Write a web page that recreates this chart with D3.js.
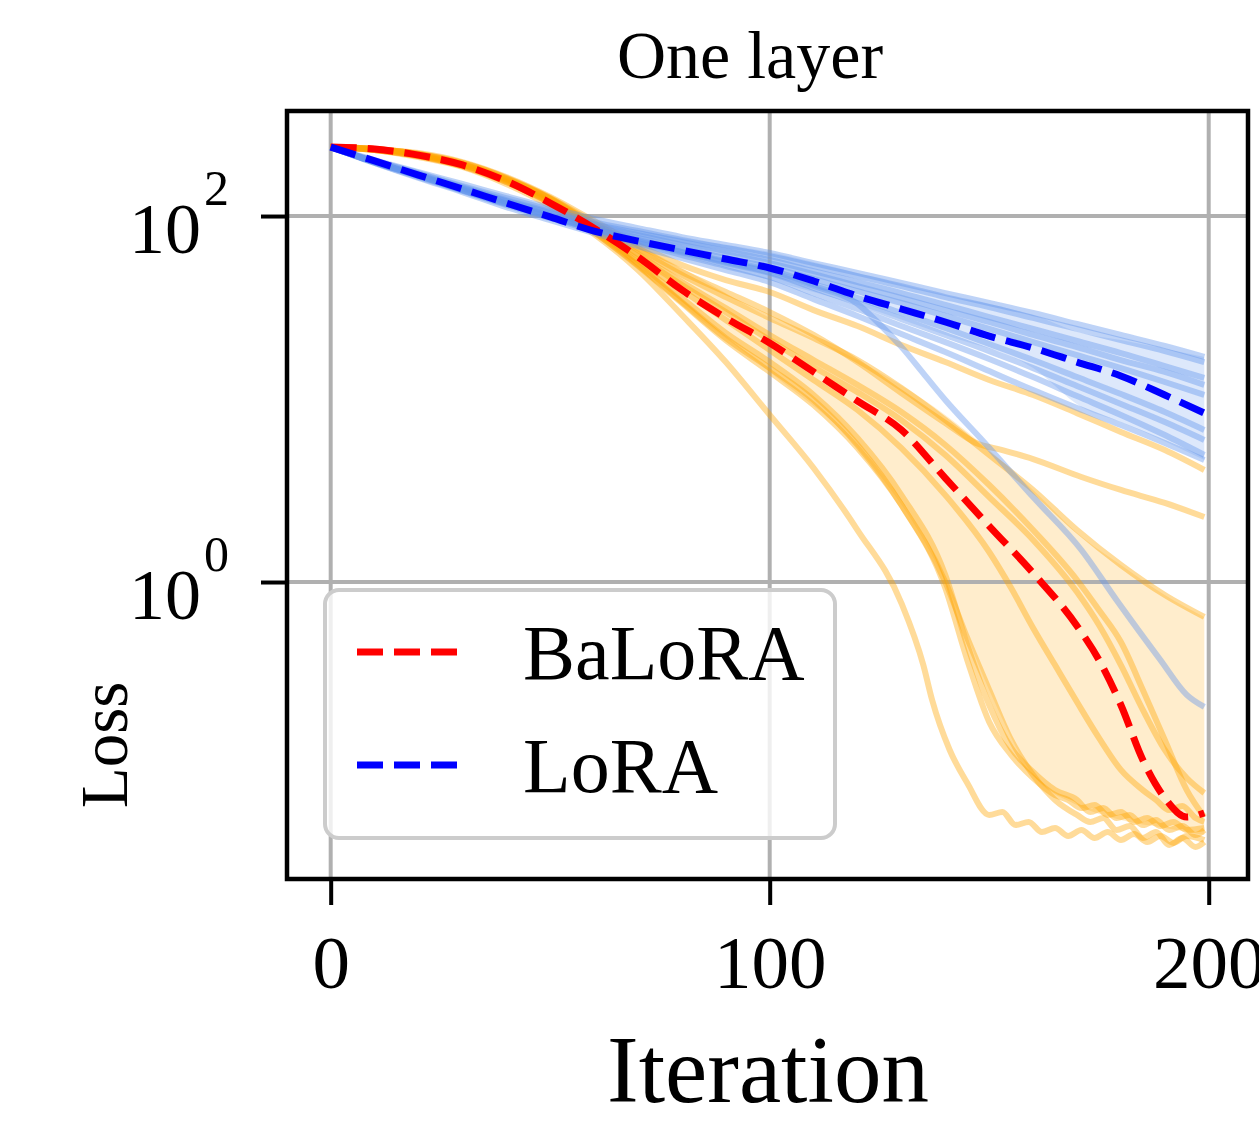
<!DOCTYPE html>
<html>
<head>
<meta charset="utf-8">
<script src="https://cdn.jsdelivr.net/npm/d3@7"></script>
<style>
  body { margin: 0; background: #fff; }
  svg text { font-family: "Liberation Serif", "Times New Roman", Times, serif; fill: #000; }
</style>
</head>
<body>
<svg id="chart" width="1259" height="1127"></svg>
<script>
// all loss values are log10(loss)

var titleText = "One layer";
var xLabel = "Iteration";
var yLabel = "Loss";
var xTicks = [0, 100, 200];
var yTickExps = [0, 2];
var legendNames = ["BaLoRA", "LoRA"];

// BaLoRA single runs: [iteration, log10 loss]
var baloraRunsLog = [
  [[0,2.377],[10,2.361],[20,2.322],[30,2.268],[40,2.175],[50,2.055],[60,1.902],[70,1.705],[80,1.459],[90,1.202],[100,0.913],[110,0.623],[120,0.284],[130,-0.115],[135,-0.454],[137,-0.645],[141,-0.918],[145,-1.098],[150,-1.273],[153,-1.257],[156,-1.328],[159,-1.311],[162,-1.366],[165,-1.344],[168,-1.388],[171,-1.355],[174,-1.399],[177,-1.366],[180,-1.410],[183,-1.377],[186,-1.421],[189,-1.388],[192,-1.426],[195,-1.388],[199,-1.410]],
  [[0,2.377],[10,2.361],[20,2.328],[30,2.273],[40,2.186],[50,2.071],[60,1.913],[70,1.732],[80,1.530],[90,1.333],[100,1.169],[110,0.995],[120,0.749],[130,0.421],[140,-0.033],[145,-0.426],[150,-0.765],[155,-0.945],[160,-1.071],[165,-1.164],[168,-1.191],[171,-1.235],[174,-1.219],[177,-1.273],[180,-1.257],[183,-1.311],[186,-1.290],[189,-1.333],[192,-1.311],[195,-1.355],[199,-1.344]],
  [[0,2.377],[10,2.361],[20,2.328],[30,2.279],[40,2.191],[50,2.077],[60,1.918],[70,1.743],[80,1.552],[90,1.361],[100,1.202],[110,1.022],[120,0.787],[130,0.475],[140,0.038],[145,-0.344],[150,-0.672],[155,-0.907],[160,-1.038],[165,-1.137],[170,-1.191],[173,-1.257],[176,-1.235],[179,-1.290],[182,-1.273],[185,-1.328],[188,-1.301],[191,-1.355],[194,-1.333],[197,-1.383],[199,-1.355]],
  [[0,2.377],[10,2.361],[20,2.328],[30,2.273],[40,2.186],[50,2.071],[60,1.913],[70,1.727],[80,1.525],[90,1.322],[100,1.148],[110,0.967],[120,0.732],[130,0.421],[140,0.000],[145,-0.306],[150,-0.590],[155,-0.863],[160,-1.055],[165,-1.191],[170,-1.273],[173,-1.311],[176,-1.290],[179,-1.355],[182,-1.333],[185,-1.399],[188,-1.366],[191,-1.437],[194,-1.399],[197,-1.448],[199,-1.421]],
  [[0,2.377],[10,2.366],[20,2.333],[30,2.279],[40,2.197],[50,2.082],[60,1.929],[70,1.760],[80,1.596],[90,1.432],[100,1.268],[110,1.104],[120,0.940],[130,0.732],[140,0.475],[150,0.164],[155,-0.033],[160,-0.251],[165,-0.454],[170,-0.656],[175,-0.852],[180,-1.027],[185,-1.137],[188,-1.191],[191,-1.246],[194,-1.224],[197,-1.290],[199,-1.311]],
  [[0,2.377],[10,2.366],[20,2.333],[30,2.284],[40,2.202],[50,2.093],[60,1.940],[70,1.781],[80,1.623],[90,1.475],[100,1.322],[110,1.175],[120,1.038],[130,0.885],[140,0.694],[150,0.464],[160,0.230],[170,-0.055],[175,-0.235],[180,-0.454],[185,-0.699],[190,-0.918],[195,-1.071],[199,-1.153]],
  [[0,2.377],[10,2.366],[20,2.339],[30,2.284],[40,2.202],[50,2.093],[60,1.945],[70,1.792],[80,1.639],[90,1.497],[100,1.350],[110,1.213],[120,1.077],[130,0.929],[140,0.749],[150,0.530],[160,0.284],[170,0.011],[175,-0.153],[180,-0.328],[185,-0.590],[190,-0.863],[195,-1.137],[199,-1.284]],
  [[0,2.377],[10,2.366],[20,2.339],[30,2.290],[40,2.208],[50,2.098],[60,1.951],[70,1.814],[80,1.678],[90,1.557],[100,1.443],[110,1.333],[120,1.213],[130,1.060],[140,0.885],[150,0.694],[160,0.503],[170,0.284],[180,0.093],[190,-0.071],[199,-0.191]],
  [[0,2.377],[10,2.366],[20,2.339],[30,2.290],[40,2.208],[50,2.098],[60,1.962],[70,1.825],[80,1.694],[90,1.585],[100,1.475],[110,1.350],[120,1.202],[130,1.033],[140,0.869],[147,0.760],[153,0.721],[160,0.672],[171,0.574],[180,0.503],[190,0.432],[199,0.355]],
  [[0,2.377],[10,2.366],[20,2.344],[30,2.295],[40,2.213],[50,2.104],[60,1.973],[70,1.842],[80,1.732],[90,1.650],[100,1.585],[110,1.486],[120,1.399],[130,1.295],[140,1.202],[150,1.104],[160,1.022],[170,0.923],[180,0.820],[190,0.721],[199,0.612]]
];

// LoRA single runs on a shared iteration grid
var loraIters = [0,10,20,30,40,50,60,70,80,90,100,110,120,130,140,150,160,170,180,190,199];
var loraRunsLog = [
  [2.377,2.306,2.240,2.175,2.109,2.044,1.984,1.934,1.885,1.842,1.798,1.743,1.689,1.634,1.579,1.525,1.470,1.410,1.350,1.290,1.230],
  [2.377,2.301,2.235,2.164,2.098,2.033,1.967,1.918,1.869,1.825,1.781,1.727,1.672,1.617,1.557,1.503,1.443,1.383,1.322,1.262,1.202],
  [2.377,2.301,2.230,2.158,2.087,2.022,1.956,1.907,1.858,1.809,1.760,1.699,1.639,1.579,1.514,1.448,1.383,1.317,1.251,1.180,1.115],
  [2.377,2.295,2.224,2.153,2.082,2.016,1.951,1.896,1.842,1.792,1.743,1.683,1.617,1.552,1.486,1.421,1.350,1.284,1.213,1.148,1.077],
  [2.377,2.295,2.224,2.148,2.077,2.005,1.940,1.880,1.825,1.770,1.721,1.656,1.590,1.525,1.454,1.383,1.311,1.240,1.169,1.093,1.022],
  [2.377,2.295,2.219,2.142,2.071,2.000,1.934,1.869,1.809,1.754,1.705,1.628,1.552,1.470,1.388,1.301,1.213,1.120,1.027,0.929,0.831],
  [2.377,2.295,2.219,2.142,2.066,1.995,1.929,1.863,1.803,1.743,1.689,1.607,1.525,1.437,1.350,1.262,1.169,1.071,0.973,0.874,0.776],
  [2.377,2.290,2.213,2.137,2.060,1.989,1.918,1.852,1.787,1.727,1.667,1.579,1.492,1.399,1.311,1.219,1.120,1.016,0.913,0.803,0.694],
  [2.377,2.290,2.208,2.131,2.049,1.978,1.907,1.836,1.770,1.705,1.639,1.546,1.454,1.355,1.257,1.153,1.049,0.951,0.858,0.760,0.667]
];
// one LoRA run that drops away from the others
var loraOutlierLog = [[0,2.377],[10,2.295],[20,2.219],[30,2.142],[40,2.066],[50,1.995],[60,1.929],[70,1.863],[80,1.803],[90,1.749],[100,1.694],[110,1.618],[120,1.520],[125,1.410],[130,1.285],[135,1.140],[140,0.995],[149,0.760],[160,0.464],[171,0.175],[179,-0.098],[189,-0.426],[195,-0.617],[199,-0.683]];

// median curves
var baloraMedIters = [0,10,20,30,40,50,60,70,80,90,100,110,120,130,140,150,160,170,175,180,185,190,195,199];
var baloraMedLog = [2.377,2.366,2.333,2.279,2.191,2.071,1.934,1.776,1.596,1.443,1.306,1.148,0.989,0.831,0.568,0.306,0.049,-0.240,-0.426,-0.672,-0.973,-1.180,-1.284,-1.262];
var loraMedLog = [2.377,2.301,2.224,2.148,2.071,1.995,1.918,1.863,1.814,1.765,1.716,1.645,1.563,1.492,1.421,1.344,1.279,1.202,1.126,1.022,0.923];

// shaded bands
var baloraBandIters = [0,20,40,60,80,100,120,140,150,160,170,180,190,199];
var baloraBandHiLog = [2.377,2.328,2.197,1.967,1.716,1.443,1.213,0.913,0.721,0.503,0.268,0.093,-0.071,-0.191];
var baloraBandLoLog = [2.377,2.322,2.175,1.907,1.514,1.148,0.732,0.000,-0.590,-1.055,-1.219,-1.301,-1.344,-1.383];
var loraBandIters = [0,20,40,60,80,100,120,140,160,171,180,199];
var loraBandHiLog = [2.377,2.235,2.098,1.967,1.880,1.803,1.689,1.568,1.459,1.361,1.322,1.230];
var loraBandLoLog = [2.377,2.219,2.060,1.907,1.781,1.650,1.514,1.350,1.169,0.956,0.874,0.667];


var svg = d3.select("#chart");
var plot = {left: 287, right: 1248, top: 111, bottom: 879};

var x = d3.scaleLinear().domain([-9.95, 208.95]).range([plot.left, plot.right]);
var y = d3.scaleLog().domain([Math.pow(10, -1.623), Math.pow(10, 2.574)]).range([plot.bottom, plot.top]);

svg.append("defs").append("clipPath").attr("id", "clip")
  .append("rect")
  .attr("x", plot.left).attr("y", plot.top)
  .attr("width", plot.right - plot.left).attr("height", plot.bottom - plot.top);

var line = d3.line()
  .x(function(d) { return x(d[0]); })
  .y(function(d) { return y(Math.pow(10, d[1])); })
  .curve(d3.curveMonotoneX);

var area = d3.area()
  .x(function(d) { return x(d[0]); })
  .y0(function(d) { return y(Math.pow(10, d[1])); })
  .y1(function(d) { return y(Math.pow(10, d[2])); })
  .curve(d3.curveMonotoneX);

var g = svg.append("g").attr("clip-path", "url(#clip)");

// bands first (below grid)
g.append("path")
  .datum(d3.zip(baloraBandIters, baloraBandLoLog, baloraBandHiLog))
  .attr("d", area).attr("fill", "orange").attr("fill-opacity", 0.2);
g.append("path")
  .datum(d3.zip(loraBandIters, loraBandLoLog, loraBandHiLog))
  .attr("d", area).attr("fill", "cornflowerblue").attr("fill-opacity", 0.22);

// grid
g.selectAll(".gx").data(xTicks).enter().append("line")
  .attr("x1", function(d) { return x(d); }).attr("x2", function(d) { return x(d); })
  .attr("y1", plot.top).attr("y2", plot.bottom)
  .attr("stroke", "#b0b0b0").attr("stroke-width", 4);
g.selectAll(".gy").data(yTickExps).enter().append("line")
  .attr("x1", plot.left).attr("x2", plot.right)
  .attr("y1", function(d) { return y(Math.pow(10, d)); }).attr("y2", function(d) { return y(Math.pow(10, d)); })
  .attr("stroke", "#b0b0b0").attr("stroke-width", 4);

// single runs
g.selectAll(".brun").data(baloraRunsLog).enter().append("path")
  .attr("d", line).attr("fill", "none")
  .attr("stroke", "orange").attr("stroke-opacity", 0.4).attr("stroke-width", 6)
  .attr("stroke-linejoin", "round");

var loraRuns = loraRunsLog.map(function(r) { return d3.zip(loraIters, r); });
loraRuns.push(loraOutlierLog);
g.selectAll(".lrun").data(loraRuns).enter().append("path")
  .attr("d", line).attr("fill", "none")
  .attr("stroke", "cornflowerblue").attr("stroke-opacity", 0.42).attr("stroke-width", 6)
  .attr("stroke-linejoin", "round");

// medians
g.append("path").datum(d3.zip(baloraMedIters, baloraMedLog))
  .attr("d", line).attr("fill", "none")
  .attr("stroke", "red").attr("stroke-width", 7).attr("stroke-dasharray", "26,11");
g.append("path").datum(d3.zip(loraIters, loraMedLog))
  .attr("d", line).attr("fill", "none")
  .attr("stroke", "blue").attr("stroke-width", 7).attr("stroke-dasharray", "26,11");

// axes
var xAxis = svg.append("g")
  .attr("transform", "translate(0," + plot.bottom + ")")
  .call(d3.axisBottom(x).tickValues(xTicks).tickSize(26).tickFormat(d3.format("d")));
xAxis.select(".domain").remove();
xAxis.selectAll(".tick line").attr("stroke", "#000").attr("stroke-width", 4);
xAxis.selectAll(".tick text").attr("y", 109).attr("dy", 0)
  .attr("font-size", "75px").attr("fill", "#000");

var yAxis = svg.append("g")
  .attr("transform", "translate(" + plot.left + ",0)")
  .call(d3.axisLeft(y).tickValues(yTickExps.map(function(e) { return Math.pow(10, e); }))
    .tickSize(26).tickFormat(""));
yAxis.select(".domain").remove();
yAxis.selectAll(".tick line").attr("stroke", "#000").attr("stroke-width", 4);
yAxis.selectAll(".tick text").remove();
yAxis.selectAll(".tick").each(function(d) {
  var t = d3.select(this);
  t.append("text").attr("x", -86).attr("y", 36)
    .attr("text-anchor", "end").attr("font-size", "72px").text("10");
  t.append("text").attr("x", -83).attr("y", -12)
    .attr("text-anchor", "start").attr("font-size", "50px")
    .text(Math.round(Math.log10(d)));
});

// frame
svg.append("rect")
  .attr("x", plot.left).attr("y", plot.top)
  .attr("width", plot.right - plot.left).attr("height", plot.bottom - plot.top)
  .attr("fill", "none").attr("stroke", "#000").attr("stroke-width", 4.5);

// labels
svg.append("text").attr("x", 750).attr("y", 78)
  .attr("text-anchor", "middle").attr("font-size", "68px").text(titleText);
svg.append("text").attr("x", 768).attr("y", 1102)
  .attr("text-anchor", "middle").attr("font-size", "95px").text(xLabel);
svg.append("text")
  .attr("transform", "translate(127,745) rotate(-90)")
  .attr("text-anchor", "middle").attr("font-size", "67px").text(yLabel);

// legend
var leg = svg.append("g");
leg.append("rect")
  .attr("x", 325).attr("y", 590).attr("width", 510).attr("height", 248)
  .attr("rx", 14).attr("ry", 14)
  .attr("fill", "#fff").attr("fill-opacity", 0.8)
  .attr("stroke", "#cccccc").attr("stroke-width", 4);
var legColors = ["red", "blue"];
var legY = [652, 765];
legendNames.forEach(function(name, i) {
  leg.append("line")
    .attr("x1", 357).attr("x2", 460).attr("y1", legY[i]).attr("y2", legY[i])
    .attr("stroke", legColors[i]).attr("stroke-width", 7).attr("stroke-dasharray", "26,11");
  leg.append("text").attr("x", 523).attr("y", legY[i] + 27)
    .attr("font-size", "78px").text(name);
});
</script>
</body>
</html>
